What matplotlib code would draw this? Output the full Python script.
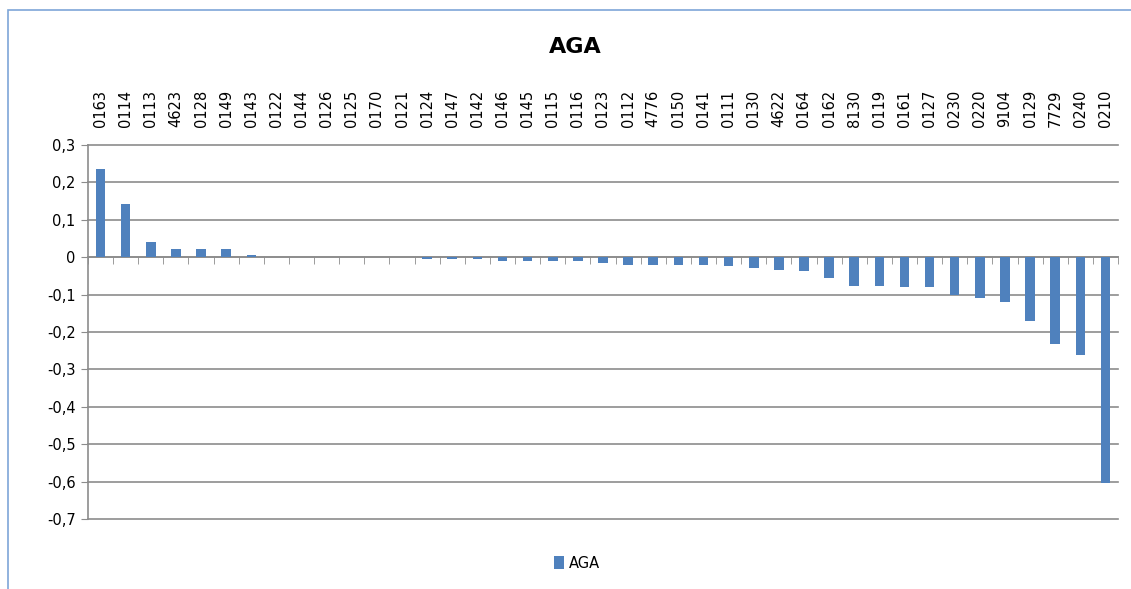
import numpy as np
import matplotlib.pyplot as plt
from matplotlib.patches import Rectangle
from matplotlib.ticker import FixedLocator, FuncFormatter

# category codes (read left to right) and AGA values
codes = ['0163', '0114', '0113', '4623', '0128', '0149', '0143', '0122',
         '0144', '0126', '0125', '0170', '0121', '0124', '0147', '0142',
         '0146', '0145', '0115', '0116', '0123', '0112', '4776', '0150',
         '0141', '0111', '0130', '4622', '0164', '0162', '8130', '0119',
         '0161', '0127', '0230', '0220', '9104', '0129', '7729', '0240',
         '0210']
aga = [0.235, 0.143, 0.041, 0.023, 0.023, 0.023, 0.007, 0.0,
       0.0, 0.0, 0.0, 0.0, 0.0, -0.005, -0.005, -0.005,
       -0.011, -0.011, -0.011, -0.011, -0.016, -0.020, -0.020, -0.020,
       -0.020, -0.024, -0.028, -0.033, -0.037, -0.055, -0.078, -0.078,
       -0.081, -0.081, -0.102, -0.108, -0.121, -0.170, -0.231, -0.262,
       -0.605]
yticks = [0.3, 0.2, 0.1, 0.0, -0.1, -0.2, -0.3, -0.4, -0.5, -0.6, -0.7]

BAR = '#4F81BD'
GRID = '#8C8C8C'

W, H = 1131, 589
fig = plt.figure(figsize=(W / 100, H / 100), dpi=100)
ax = fig.add_axes([88 / W, 1 - 519 / H, (1118 - 88) / W, (519 - 145) / H])

# chart area border (light blue, only left and top visible)
fig.patches.append(Rectangle((8 / W, -0.2), 1.2, 1 - 10 / H + 0.2,
                             transform=fig.transFigure, fill=False,
                             edgecolor='#7EA6D8', lw=1.2))

x = np.arange(len(codes))
ax.bar(x, aga, width=0.38, color=BAR, zorder=3, label='AGA')

ax.set_xlim(-0.5, len(codes) - 0.5)
ax.set_ylim(-0.7, 0.3)
ax.set_yticks(yticks)
ax.yaxis.set_major_formatter(FuncFormatter(
    lambda v, p: '0' if abs(v) < 1e-9 else ('%.1f' % v).replace('.', ',')))
ax.grid(axis='y', color=GRID, lw=1.2, zorder=0)
for gl in ax.get_ygridlines():
    gl.set_clip_on(False)
ax.tick_params(axis='y', direction='out', length=5, color=GRID,
               labelsize=10.5, pad=4)

# x labels on top, boundary ticks on the zero line
ax.set_xticks(x)
ax.set_xticklabels(codes)
ax.xaxis.set_minor_locator(FixedLocator(np.arange(len(codes) + 1) - 0.5))
ax.tick_params(axis='x', which='major', top=True, bottom=False,
               labeltop=True, labelbottom=False, length=0, pad=13,
               labelrotation=90, labelsize=10.5)
ax.tick_params(axis='x', which='minor', top=False, bottom=True,
               direction='out', length=5, color=GRID)
ax.spines['bottom'].set_position(('data', 0))
ax.spines['bottom'].set_color(GRID)
ax.spines['bottom'].set_linewidth(1.2)
ax.spines['left'].set_color(GRID)
ax.spines['left'].set_linewidth(1.2)
ax.spines['top'].set_visible(False)
ax.spines['right'].set_visible(False)

fig.text(575 / W, 1 - 47 / H, 'AGA', ha='center', va='center',
         fontsize=16, fontweight='bold')

fig.legend(loc='center', bbox_to_anchor=(577 / W, 1 - 563 / H), frameon=False,
           fontsize=10.5, handlelength=0.7, handleheight=1.0,
           handletextpad=0.3)

fig.savefig('out.png', dpi=100)
